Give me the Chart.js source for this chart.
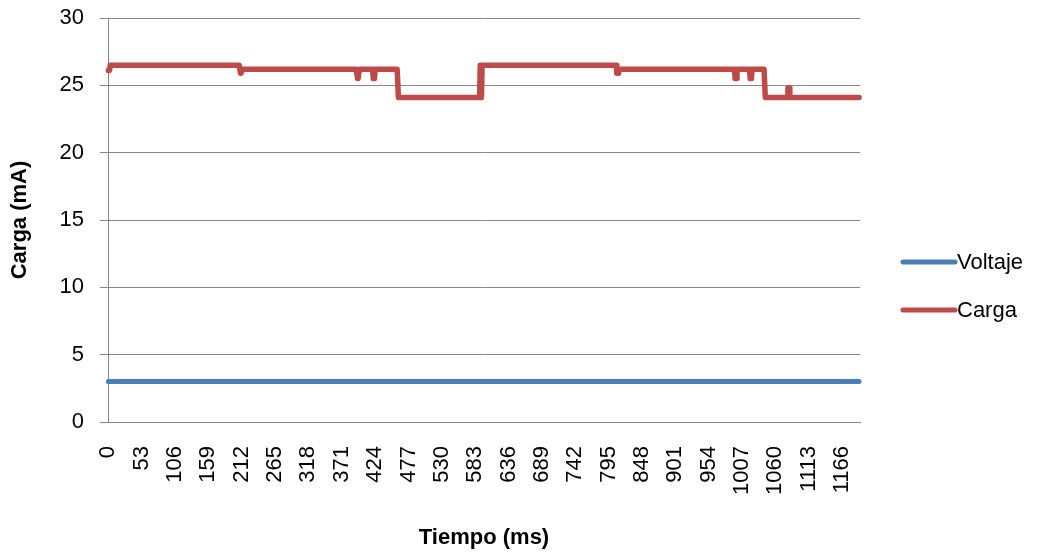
<!DOCTYPE html>
<html>
<head>
<meta charset="utf-8">
<title>Carga vs Tiempo</title>
<script src="https://cdn.jsdelivr.net/npm/chart.js@4.4.0/dist/chart.umd.min.js"></script>
<style>
  html, body { margin: 0; padding: 0; background: #fff; }
  #wrap { width: 1040px; height: 554px; }
</style>
</head>
<body>
<div id="wrap"><canvas id="chart" width="1040" height="554"></canvas></div>
<script>
// Samples (ms) on the category axis, labelled every 53
const sampleCount = 1195;
const labelStep = 53;

// Voltaje: constant level, run-length encoded (value, count)
const voltajeLevels = [3];
const voltajeRuns = [1195];

// Carga (mA): step levels, run-length encoded
const cargaLevels = [26.1, 26.5, 25.9, 26.2, 25.5, 26.2, 25.5, 26.2, 24.1, 26.5, 24.1,
                     26.5, 25.9, 26.2, 25.5, 26.2, 25.5, 26.2, 24.1, 24.8, 24.1];
const cargaRuns   = [3, 207, 3, 183, 3, 22, 3, 37, 130, 2, 1,
                     214, 3, 185, 3, 21, 3, 21, 36, 3, 112];

const yMin = 0;
const yMax = 30;
const yStep = 5;

function expandRuns(levels, runs) {
  const out = [];
  levels.forEach((v, i) => {
    for (let k = 0; k < runs[i]; k++) out.push(v);
  });
  return out;
}

const tiempo = Array.from({ length: sampleCount }, (_, i) => String(i));
const voltaje = expandRuns(voltajeLevels, voltajeRuns);
const carga = expandRuns(cargaLevels, cargaRuns);

const gridColor = '#878787';
const tickFont = { family: 'Liberation Sans', size: 22 };
const titleFont = { family: 'Liberation Sans', size: 22, weight: 'bold' };

// Legend drawn at the right, Excel style (line sample + label)
const sideLegend = {
  id: 'sideLegend',
  afterDraw(chart) {
    const ctx = chart.ctx;
    const rows = [262, 310];
    ctx.save();
    chart.data.datasets.forEach((ds, i) => {
      const y = rows[i];
      ctx.strokeStyle = ds.borderColor;
      ctx.lineWidth = 5;
      ctx.lineCap = 'round';
      ctx.beginPath();
      ctx.moveTo(903, y);
      ctx.lineTo(955, y);
      ctx.stroke();
      ctx.fillStyle = '#000';
      ctx.font = '22px "Liberation Sans"';
      ctx.textAlign = 'left';
      ctx.textBaseline = 'middle';
      ctx.fillText(ds.label, 957, y + 1);
    });
    ctx.restore();
  }
};

new Chart(document.getElementById('chart').getContext('2d'), {
  type: 'line',
  data: {
    labels: tiempo,
    datasets: [
      {
        label: 'Voltaje',
        data: voltaje,
        borderColor: '#4a7ebb',
        borderWidth: 5,
        pointRadius: 0,
        borderCapStyle: 'round',
        borderJoinStyle: 'round',
        tension: 0
      },
      {
        label: 'Carga',
        data: carga,
        borderColor: '#be4b48',
        borderWidth: 5.5,
        pointRadius: 0,
        borderCapStyle: 'round',
        borderJoinStyle: 'round',
        tension: 0
      }
    ]
  },
  options: {
    responsive: false,
    animation: false,
    layout: { padding: { top: 18, right: 180, bottom: 0, left: 0 } },
    plugins: {
      legend: { display: false },
      tooltip: { enabled: false }
    },
    scales: {
      x: {
        offset: true,
        afterFit(scale) {
          scale.height = 132;
          scale.paddingLeft = 0;
          scale.paddingRight = 0;
        },
        border: { display: true, color: gridColor, width: 1 },
        grid: { display: false, drawTicks: false },
        ticks: {
          autoSkip: false,
          minRotation: 90,
          maxRotation: 90,
          padding: 24,
          color: '#000',
          font: tickFont,
          callback(value, index) {
            return index % labelStep === 0 ? tiempo[index] : null;
          }
        },
        title: {
          display: true,
          text: 'Tiempo (ms)',
          color: '#000',
          font: titleFont,
          padding: { top: 0, bottom: 3 }
        }
      },
      y: {
        min: yMin,
        max: yMax,
        afterFit(scale) {
          scale.width = 108;
          scale.paddingTop = 0;
          scale.paddingBottom = 0;
        },
        border: { display: true, color: gridColor, width: 1 },
        grid: { color: gridColor, lineWidth: 1, drawTicks: true, tickLength: 8 },
        ticks: {
          stepSize: yStep,
          padding: 16,
          color: '#000',
          font: tickFont
        },
        title: {
          display: true,
          text: 'Carga (mA)',
          color: '#000',
          font: titleFont,
          padding: { top: 7, bottom: 0 }
        }
      }
    }
  },
  plugins: [sideLegend]
});
</script>
</body>
</html>
